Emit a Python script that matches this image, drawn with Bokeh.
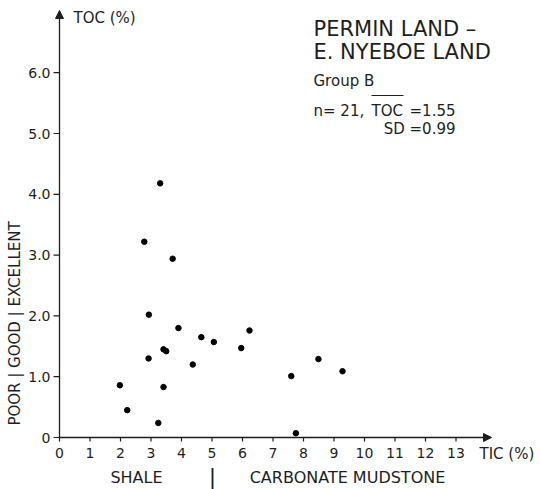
import math

from bokeh.core.properties import value
from bokeh.embed import file_html
from bokeh.models import Arrow, NormalHead, Range1d
from bokeh.plotting import figure
from bokeh.resources import INLINE

# TIC (%) and TOC (%) of the Group B samples
tic = [3.30, 2.78, 3.71, 2.93, 3.90, 4.65, 5.06, 6.23, 5.96, 3.41, 3.50,
       2.92, 4.37, 1.98, 3.41, 2.22, 3.24, 7.60, 8.49, 9.28, 7.75]
toc = [4.18, 3.22, 2.94, 2.02, 1.80, 1.65, 1.57, 1.76, 1.47, 1.45, 1.42,
       1.30, 1.20, 0.86, 0.83, 0.45, 0.24, 1.01, 1.29, 1.09, 0.07]

x_ticks = list(range(0, 14))
x_tick_labels = [str(t) for t in x_ticks]
y_ticks = [0, 1, 2, 3, 4, 5, 6]
y_tick_labels = ["0", "1.0", "2.0", "3.0", "4.0", "5.0", "6.0"]

title_lines = ["PERMIN LAND \u2013", "E. NYEBOE LAND"]
group_text = "Group B"
n_text = "n= 21,"
mean_name = "TOC"
mean_text = "=1.55"
sd_text = "SD =0.99"

W, H = 540, 489
X0_PX, Y0_PX = 59, 437           # pixel position of the origin
PX_X, PX_Y = 30.5, 60.8          # pixels per data unit
FONT = "DejaVu Sans"
INK = "#1e1e1e"


def X(px):
    return (px - X0_PX) / PX_X


def Y(py):
    return (Y0_PX - py) / PX_Y


# the frame covers the whole canvas; the axes are drawn as glyphs on it
p = figure(width=W, height=H, output_backend="svg", toolbar_location=None,
           x_range=Range1d(X(0), X(W)), y_range=Range1d(Y(H), Y(0)),
           min_border=0)
p.axis.visible = False
p.outline_line_color = None
p.grid.visible = False
p.background_fill_color = "white"
p.border_fill_color = "white"

# axis lines with arrow heads
p.add_layout(Arrow(end=NormalHead(size=8, fill_color=INK, line_color=INK),
                   x_start=0, y_start=0, x_end=X(491), y_end=0,
                   line_color=INK, line_width=1.3))
p.add_layout(Arrow(end=NormalHead(size=8, fill_color=INK, line_color=INK),
                   x_start=0, y_start=0, x_end=0, y_end=Y(10),
                   line_color=INK, line_width=1.3))

# tick marks
p.segment(x0=x_ticks, y0=[0] * len(x_ticks), x1=x_ticks,
          y1=[-4 / PX_Y] * len(x_ticks), line_color=INK, line_width=1.2)
p.segment(x0=[0] * len(y_ticks), y0=y_ticks, x1=[-6 / PX_X] * len(y_ticks),
          y1=y_ticks, line_color=INK, line_width=1.2)

# tick labels
p.text(x=x_ticks, y=[Y(452)] * len(x_ticks), text=x_tick_labels,
       text_font=value(FONT), text_font_size="14px", text_color=INK,
       text_align="center", text_baseline="middle")
p.text(x=[X(50)] * len(y_ticks), y=y_ticks, text=y_tick_labels,
       text_font=value(FONT), text_font_size="14px", text_color=INK,
       text_align="right", text_baseline="middle")

p.scatter(tic, toc, size=5.5, color="black")


def label(text, px, py, size, align="left", baseline="alphabetic", angle=0):
    p.text(x=[X(px)], y=[Y(py)], text=[text], text_font=value(FONT),
           text_font_size=size, text_color=INK, text_align=align,
           text_baseline=baseline, angle=angle)


label("TOC (%)", 73, 17, "15px", baseline="middle")
label("TIC (%)", 479, 453, "15px", baseline="middle")

label(title_lines[0], 313, 28, "21px")
label(title_lines[1], 313, 51, "21px")
label(group_text, 313, 80, "15px")
label(n_text, 313, 110, "15px")
label(mean_name, 371, 110, "15px")
label(mean_text, 455, 110, "15px", align="right")
label(sd_text, 455, 128, "15px", align="right")
# bar over the mean symbol
p.segment(x0=[X(371)], y0=[Y(95)], x1=[X(403)], y1=[Y(95)],
          line_color=INK, line_width=1.2)

# lithology classes along the TIC axis
label("SHALE", 136, 477, "16px", align="center", baseline="middle")
label("|", 212, 476, "22px", align="center", baseline="middle")
label("CARBONATE MUDSTONE", 347, 477, "16px", align="center", baseline="middle")

# source-rock quality classes along the TOC axis
label("POOR | GOOD | EXCELLENT", 14, 323, "15px", align="center",
      baseline="middle", angle=math.pi / 2)

open("out.html", "w").write(file_html(p, INLINE))
